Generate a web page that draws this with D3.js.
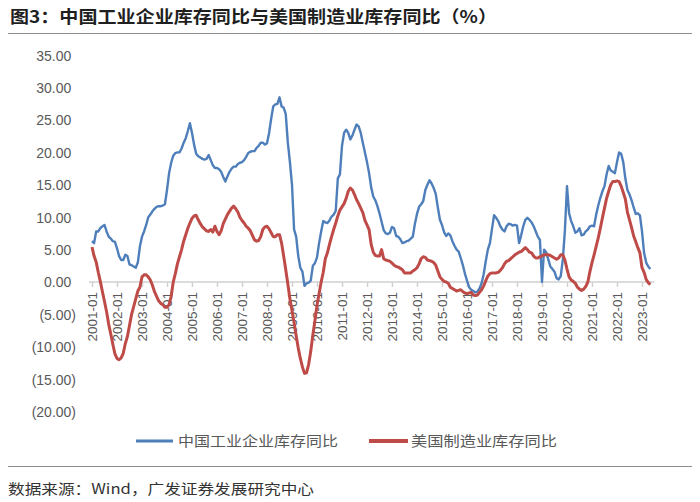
<!DOCTYPE html>
<html><head><meta charset="utf-8">
<script src="https://cdn.jsdelivr.net/npm/d3@7"></script>
<style>body{margin:0;background:#fff} svg{display:block}</style>
</head><body><svg id="c" width="700" height="502"></svg>
<script>
// ---- data (monthly, starting 2001-01) ----
const startYear = 2001;
const chinaInventoryYoY = [
6.3, 6.0, 7.8, 7.8, 8.3, 8.6, 8.8, 7.8, 7.0, 6.7, 6.3, 6.2,
5.2, 4.0, 3.4, 3.4, 4.2, 4.0, 2.7, 2.6, 2.4, 2.2, 3.0, 5.5,
7.0, 7.8, 8.8, 10.0, 10.4, 10.9, 11.3, 11.6, 11.7, 11.7, 11.8, 12.0,
14.2, 16.8, 18.4, 19.5, 19.9, 20.0, 20.0, 20.6, 21.5, 22.2, 23.3, 24.5,
23.0, 21.2, 19.8, 19.4, 19.2, 19.0, 18.9, 19.0, 19.6, 18.8, 18.0, 17.6,
17.6, 17.4, 17.0, 16.2, 15.5, 16.3, 17.0, 17.5, 17.8, 17.8, 18.2, 18.4,
18.5, 18.8, 19.3, 19.9, 20.1, 20.2, 20.2, 20.7, 21.0, 21.5, 21.5, 21.2,
21.4, 23.0, 25.2, 27.1, 27.4, 27.5, 28.5, 27.1, 26.9, 25.9, 21.5, 18.5,
15.0, 8.1, 7.0, 4.0, 2.2, 1.6, -0.6, -0.2, -0.1, 0.2, 2.5, 2.9,
3.8, 6.0, 7.8, 9.4, 9.2, 9.1, 9.5, 10.1, 10.4, 11.0, 16.0, 16.6,
21.0, 23.0, 23.5, 23.0, 22.0, 22.6, 23.5, 24.3, 24.0, 23.0, 21.5, 20.0,
18.5, 16.8, 14.6, 13.2, 12.6, 11.7, 10.6, 9.3, 8.0, 7.5, 7.4, 7.6,
8.5, 8.3, 7.1, 7.0, 6.6, 6.0, 6.1, 6.3, 6.4, 6.7, 7.0, 9.0,
10.5, 11.6, 12.0, 12.5, 14.2, 15.0, 15.7, 15.2, 14.5, 13.6, 11.5, 9.6,
8.8, 7.7, 7.1, 7.5, 7.2, 6.3, 5.6, 5.0, 4.7, 3.7, 2.6, 1.3,
0.2, -0.8, -1.2, -1.4, -1.6, -1.5, -1.0, -0.2, 1.2, 3.2, 5.0, 6.0,
8.2, 10.3, 9.9, 9.4, 8.6, 8.1, 7.8, 8.6, 9.0, 8.9, 8.7, 8.8,
8.7, 6.0, 7.2, 8.6, 9.6, 9.9, 9.6, 9.2, 8.6, 7.8, 7.0, 6.5,
0.0, 5.0, 4.6, 3.5, 2.4, 2.0, 1.6, 0.6, 0.4, 0.9, 3.5, 8.0,
14.8, 10.6, 9.4, 8.6, 7.6, 7.8, 8.3, 7.2, 7.3, 7.8, 8.1, 8.6,
8.7, 8.6, 10.4, 11.8, 13.0, 14.0, 14.8, 16.6, 17.9, 17.2, 17.0, 16.8,
18.5, 20.0, 19.8, 18.5, 16.0, 14.2, 13.5, 12.6, 11.5, 10.5, 10.6, 10.3,
7.8, 4.5, 3.0, 2.4, 2.0
];
const usInventoryYoY = [
5.4, 4.0, 3.1, 1.5, 0.1, -1.5, -3.0, -4.6, -6.5, -8.0, -9.6, -11.1,
-11.8, -12.0, -11.7, -11.0, -9.5, -8.4, -6.7, -5.0, -3.8, -2.6, -1.4, -0.8,
0.8, 1.1, 1.1, 0.8, 0.3, -0.5, -1.5, -2.2, -2.9, -3.3, -3.5, -3.9,
-3.9, -3.5, -2.2, 0.0, 1.3, 2.8, 3.9, 5.0, 6.3, 7.3, 8.3, 9.1,
9.8, 10.2, 10.3, 9.6, 9.0, 8.5, 8.2, 7.9, 7.8, 8.1, 7.7, 8.6,
7.8, 7.3, 7.9, 9.0, 9.7, 10.4, 10.9, 11.4, 11.7, 11.3, 10.8, 10.0,
9.5, 9.1, 8.6, 8.3, 7.9, 7.2, 6.5, 6.3, 6.4, 7.0, 8.1, 8.5,
8.6, 8.2, 7.6, 7.0, 7.0, 7.3, 7.3, 6.0, 4.0, 1.9, -0.3, -2.6,
-4.4, -6.3, -8.3, -10.2, -11.8, -13.1, -14.1, -14.0, -12.7, -10.7, -8.2, -6.0,
-3.6, -1.8, 0.0, 1.5, 3.6, 4.5, 5.8, 7.0, 8.1, 9.1, 10.2, 11.1,
11.6, 12.1, 12.9, 14.0, 14.5, 14.2, 13.5, 12.7, 12.1, 11.4, 10.7, 9.5,
8.8, 8.1, 5.8, 4.6, 4.1, 4.0, 4.0, 5.0, 3.6, 3.4, 3.3, 3.2,
2.9, 2.6, 2.4, 2.3, 2.1, 1.9, 1.4, 1.4, 1.4, 1.4, 1.7, 1.9,
2.2, 2.8, 3.6, 3.9, 3.8, 3.4, 3.3, 3.2, 3.0, 2.6, 1.7, 0.8,
0.4, 0.1, 0.0, -0.2, -0.8, -1.0, -1.2, -1.4, -1.3, -1.2, -1.5, -1.7,
-1.8, -1.7, -1.6, -2.0, -2.1, -2.0, -1.6, -1.2, -0.6, 0.2, 0.9, 1.3,
1.4, 1.4, 1.4, 1.5, 1.8, 2.2, 2.8, 3.2, 3.3, 3.6, 3.9, 4.2,
4.4, 4.6, 4.7, 5.0, 5.3, 5.0, 4.6, 4.5, 4.0, 3.7, 3.7, 3.9,
4.0, 4.2, 4.2, 4.2, 4.1, 3.9, 3.7, 3.5, 3.7, 4.2, 4.2, 3.4,
2.0, 0.8, 0.3, 0.1, -0.2, -0.8, -1.1, -1.3, -1.1, -0.7, 0.0, 1.6,
3.0, 4.2, 5.5, 6.8, 8.3, 9.9, 11.4, 12.9, 14.0, 15.0, 15.5, 15.5,
15.6, 15.5, 14.8, 13.8, 12.8, 10.8, 9.6, 8.4, 7.1, 6.2, 5.3, 4.5,
2.2, 1.5, 0.4, -0.1, -0.4
];
const xTickLabels = ["2001-01","2002-01","2003-01","2004-01","2005-01","2006-01","2007-01","2008-01",
  "2009-01","2010-01","2011-01","2012-01","2013-01","2014-01","2015-01","2016-01","2017-01","2018-01",
  "2019-01","2020-01","2021-01","2022-01","2023-01"];
const yTickValues = [35, 30, 25, 20, 15, 10, 5, 0, -5, -10, -15, -20];
const seriesNames = ["中国工业企业库存同比", "美国制造业库存同比"];
const titleText = "图3：中国工业企业库存同比与美国制造业库存同比（%）";
const sourceText = "数据来源：Wind，广发证券发展研究中心";

// ---- drawing ----
const svg = d3.select("#c");
const blue = "#4f7fbb", red = "#bf4b48", txt = "#595959";
const cjk = "'Noto Sans CJK SC','Noto Sans',sans-serif";
const num = "'Liberation Sans',Arial,sans-serif";

const x = d3.scaleLinear().domain([0, 264]).range([92, 642]);
const y = d3.scaleLinear().domain([-20, 35]).range([411.6, 55.2]);

// title
svg.append("text").attr("x", 10).attr("y", 23)
  .attr("font-family", cjk).attr("font-weight", "bold").attr("font-size", 17)
  .attr("fill", "#1f1f1f").attr("textLength", 487).attr("lengthAdjust", "spacingAndGlyphs")
  .text(titleText);
svg.append("line").attr("x1", 8).attr("x2", 692).attr("y1", 33.5).attr("y2", 33.5)
  .attr("stroke", "#8c8c8c").attr("stroke-width", 1.2);

// y axis labels
const yAxis = d3.axisLeft(y).tickValues(yTickValues).tickSize(0)
  .tickFormat(v => v < 0 ? `(${Math.abs(v).toFixed(2)})` : v.toFixed(2));
const gy = svg.append("g").attr("transform", "translate(76,0)").call(yAxis);
gy.select(".domain").remove();
gy.selectAll("text").attr("font-family", num).attr("font-size", 14).attr("fill", txt)
  .attr("x", d => d < 0 ? 0 : -4.7).attr("dy", "0.35em");

// x axis
const monthTicks = xTickLabels.map((_, i) => i * 12);
const xAxis = d3.axisBottom(x).tickValues(monthTicks).tickSize(5)
  .tickFormat((d, i) => xTickLabels[i]);
const gx = svg.append("g").attr("transform", `translate(0,${y(0)})`).call(xAxis);
gx.select(".domain").attr("d", `M${x(0) - 3},0H${x(chinaInventoryYoY.length - 1) + 4}`)
  .attr("stroke", "#d0d0d0").attr("stroke-width", 1.5);
gx.selectAll(".tick line").attr("stroke", "#d0d0d0").attr("stroke-width", 1.5);
gx.selectAll(".tick text").attr("font-family", num).attr("font-size", 13.5).attr("fill", txt)
  .attr("text-anchor", "end").attr("transform", "rotate(-90)")
  .attr("x", -10).attr("y", 0).attr("dy", "0.35em");

// lines
const line = d3.line().x((d, i) => x(i)).y(d => y(d)).curve(d3.curveLinear);
svg.append("path").datum(chinaInventoryYoY).attr("d", line)
  .attr("fill", "none").attr("stroke", blue).attr("stroke-width", 2.4).attr("stroke-linejoin", "round");
svg.append("path").datum(usInventoryYoY).attr("d", line)
  .attr("fill", "none").attr("stroke", red).attr("stroke-width", 3).attr("stroke-linejoin", "round");

// legend
const legend = [
  {name: seriesNames[0], color: blue, x1: 136, x2: 173, w: 3, tx: 178, tl: 160},
  {name: seriesNames[1], color: red, x1: 369, x2: 408, w: 4, tx: 411, tl: 146}
];
legend.forEach(l => {
  svg.append("line").attr("x1", l.x1).attr("x2", l.x2).attr("y1", 441).attr("y2", 441)
    .attr("stroke", l.color).attr("stroke-width", l.w);
  svg.append("text").attr("x", l.tx).attr("y", 446).attr("font-family", cjk).attr("font-size", 14)
    .attr("fill", txt).attr("textLength", l.tl).attr("lengthAdjust", "spacingAndGlyphs").text(l.name);
});

// footer
svg.append("line").attr("x1", 8).attr("x2", 692).attr("y1", 466.5).attr("y2", 466.5)
  .attr("stroke", "#8c8c8c").attr("stroke-width", 1.2);
svg.append("text").attr("x", 8).attr("y", 494).attr("font-family", cjk).attr("font-size", 14)
  .attr("fill", "#333").attr("textLength", 306).attr("lengthAdjust", "spacingAndGlyphs").text(sourceText);
</script></body></html>
